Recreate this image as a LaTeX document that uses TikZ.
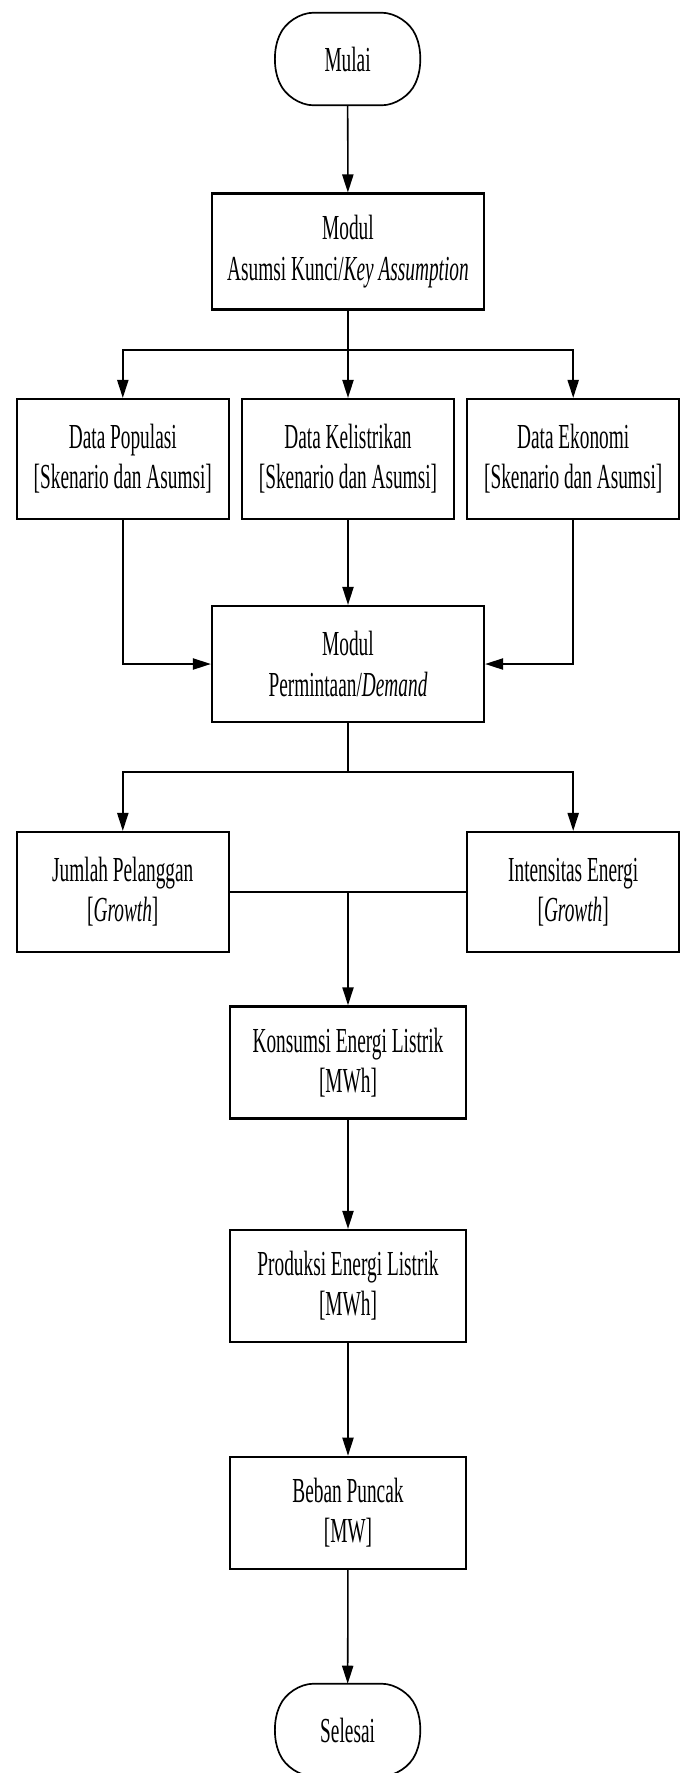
\documentclass[tikz,border=0pt]{standalone}
\usepackage{fontspec}
\setmainfont{Liberation Serif}[FakeStretch=0.55]
\usepackage{tikz}
\usetikzlibrary{arrows.meta,calc}

\begin{document}
\begin{tikzpicture}[
  box/.style={draw, line width=1.6pt, align=center, inner sep=2pt, font=\fontsize{25}{28.5}\selectfont},
  modbox/.style={box, minimum width=6.8cm, minimum height=2.9cm},
  databox/.style={box, minimum width=5.3cm, minimum height=3cm},
  outbox/.style={box, minimum width=5.9cm, minimum height=2.8cm},
  term/.style={align=center, minimum width=3.9cm, minimum height=2.3cm, font=\fontsize{25}{28.5}\selectfont},
  termline/.style={line width=1.2pt, rounded corners=0.6cm},
  arr/.style={line width=1.1pt, -{Triangle[length=4.5mm,width=2.8mm]}},
  line/.style={line width=1.1pt}
]
\useasboundingbox (0,0) rectangle (17.05,-44.325);
%\node {\includegraphics{flowchart.png}};
\node[term] (mulai) at (8.69,-1.475) {Mulai};
\draw[termline] ($(mulai.north west)+(0.5,0)$) -- ($(mulai.north east)+(-0.5,0)$) -- (mulai.east) -- ($(mulai.south east)+(-0.5,0)$) -- ($(mulai.south west)+(0.5,0)$) -- (mulai.west) -- cycle;
\node[modbox] (asumsi) at (8.7,-6.29) {Modul\\Asumsi Kunci/\textit{Key Assumption}};
\node[databox] (pop) at (3.07,-11.475) {Data Populasi\\{[}Skenario dan Asumsi{]}};
\node[databox] (listrik) at (8.7,-11.475) {Data Kelistrikan\\{[}Skenario dan Asumsi{]}};
\node[databox] (eko) at (14.33,-11.475) {Data Ekonomi\\{[}Skenario dan Asumsi{]}};
\node[modbox] (perm) at (8.7,-16.6) {Modul\\Permintaan/\textit{Demand}};
\node[databox] (plg) at (3.07,-22.3) {Jumlah Pelanggan\\{[}\textit{Growth}{]}};
\node[databox] (ints) at (14.33,-22.3) {Intensitas Energi\\{[}\textit{Growth}{]}};
\node[outbox] (kons) at (8.7,-26.56) {Konsumsi Energi Listrik\\{[}MWh{]}};
\node[outbox] (prod) at (8.7,-32.15) {Produksi Energi Listrik\\{[}MWh{]}};
\node[outbox] (beban) at (8.7,-37.82) {Beban Puncak\\{[}MW{]}};
\node[term] (selesai) at (8.69,-43.25) {Selesai};
\draw[termline] ($(selesai.north west)+(0.5,0)$) -- ($(selesai.north east)+(-0.5,0)$) -- (selesai.east) -- ($(selesai.south east)+(-0.5,0)$) -- ($(selesai.south west)+(0.5,0)$) -- (selesai.west) -- cycle;

\coordinate (cab1) at (8.7,-8.75);
\coordinate (cab2) at (8.7,-19.3);
\coordinate (gab) at (8.7,-22.3);
\draw[arr] (mulai) -- (asumsi);
\draw[line] (asumsi) -- (cab1);
\draw[arr] (cab1) -| (pop);
\draw[arr] (cab1) -- (listrik);
\draw[arr] (cab1) -| (eko);
\draw[arr] (pop) |- (perm);
\draw[arr] (listrik) -- (perm);
\draw[arr] (eko) |- (perm);
\draw[line] (perm) -- (cab2);
\draw[arr] (cab2) -| (plg);
\draw[arr] (cab2) -| (ints);
\draw[line] (plg) -- (ints);
\draw[arr] (gab) -- (kons);
\draw[arr] (kons) -- (prod);
\draw[arr] (prod) -- (beban);
\draw[arr] (beban) -- (selesai);
\end{tikzpicture}
\end{document}
